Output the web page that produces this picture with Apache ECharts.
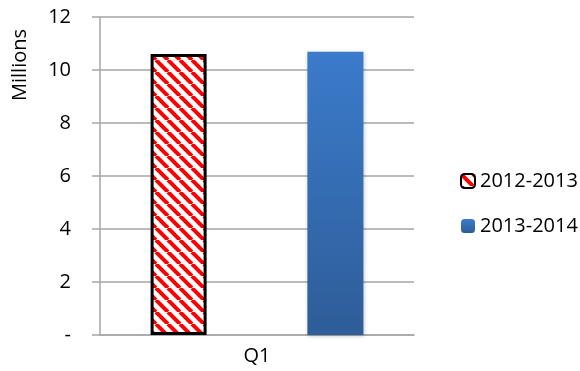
<!DOCTYPE html>
<html>
<head>
<meta charset="utf-8">
<script src="https://cdn.jsdelivr.net/npm/echarts@6/dist/echarts.min.js"></script>
<style>
  html, body { margin: 0; padding: 0; background: #fff; }
  #chart { width: 580px; height: 371px; }
</style>
</head>
<body>
<div id="chart"></div>
<script>
// data (millions)
const categories = ['Q1'];
const seriesNames = ['2012-2013', '2013-2014'];
const values2012 = [10.6];
const values2013 = [10.69];
const yTicks = [0, 2, 4, 6, 8, 10, 12];

const font = '"Open Sans", "Liberation Sans", sans-serif';
const gridColor = '#a6a6a6';

// red diagonal hatch like excel's wide downward diagonal
function makeHatch(){
  const c = document.createElement('canvas');
  c.width = 12; c.height = 12;
  const ctx = c.getContext('2d');
  ctx.fillStyle = '#fff';
  ctx.fillRect(0, 0, 12, 12);
  ctx.strokeStyle = '#ff0000';
  ctx.lineWidth = 4;
  ctx.beginPath();
  for (let k = -12; k <= 24; k += 12){
    ctx.moveTo(k, 0); ctx.lineTo(k + 12, 12);
  }
  ctx.stroke();
  return c;
}

const chart = echarts.init(document.getElementById('chart'), null, { renderer: 'canvas' });

chart.setOption({
  backgroundColor: '#fff',
  animation: false,
  textStyle: { fontFamily: font, color: '#000' },
  grid: { left: 100, right: 166, top: 17, bottom: 36 },
  legend: {
    orient: 'vertical', left: 455, top: 166,
    itemWidth: 14, itemHeight: 14, itemGap: 25,
    textStyle: { fontSize: 20, fontFamily: font, color: '#000' },
    data: seriesNames
  },
  graphic: [{
    type: 'text', x: 20, y: 65, rotation: Math.PI / 2,
    style: { text: 'Millions', fontSize: 20, fontFamily: font, fill: '#000', align: 'center', verticalAlign: 'middle' }
  }],
  xAxis: {
    type: 'category', data: categories,
    axisLine: { lineStyle: { color: gridColor, width: 1.5 } },
    axisTick: { show: false },
    axisLabel: { fontSize: 20, color: '#000', margin: 11 }
  },
  yAxis: {
    type: 'value', min: yTicks[0], max: yTicks[yTicks.length - 1], interval: 2,
    axisLine: { show: true, lineStyle: { color: gridColor, width: 1.5 } },
    axisTick: { show: true, length: 8, lineStyle: { color: gridColor, width: 1.5 } },
    axisLabel: { fontSize: 20, color: '#000', margin: 29, formatter: v => v === 0 ? '-' : String(v) },
    splitLine: { show: true, lineStyle: { color: gridColor, width: 1.5 } }
  },
  series: [{
    name: seriesNames[0], type: 'bar', data: values2012,
    barWidth: 56, barGap: '180%',
    itemStyle: {
      color: { image: makeHatch(), repeat: 'repeat' },
      borderColor: '#000', borderWidth: 3
    }
  }, {
    name: seriesNames[1], type: 'bar', data: values2013,
    barWidth: 56,
    itemStyle: {
      color: new echarts.graphic.LinearGradient(0, 0, 0, 1, [
        { offset: 0, color: '#3b7bcb' },
        { offset: 1, color: '#2e5d98' }
      ]),
      shadowColor: 'rgba(0,0,0,0.25)', shadowBlur: 4, shadowOffsetX: 1, shadowOffsetY: 1
    }
  }]
});
</script>
</body>
</html>
